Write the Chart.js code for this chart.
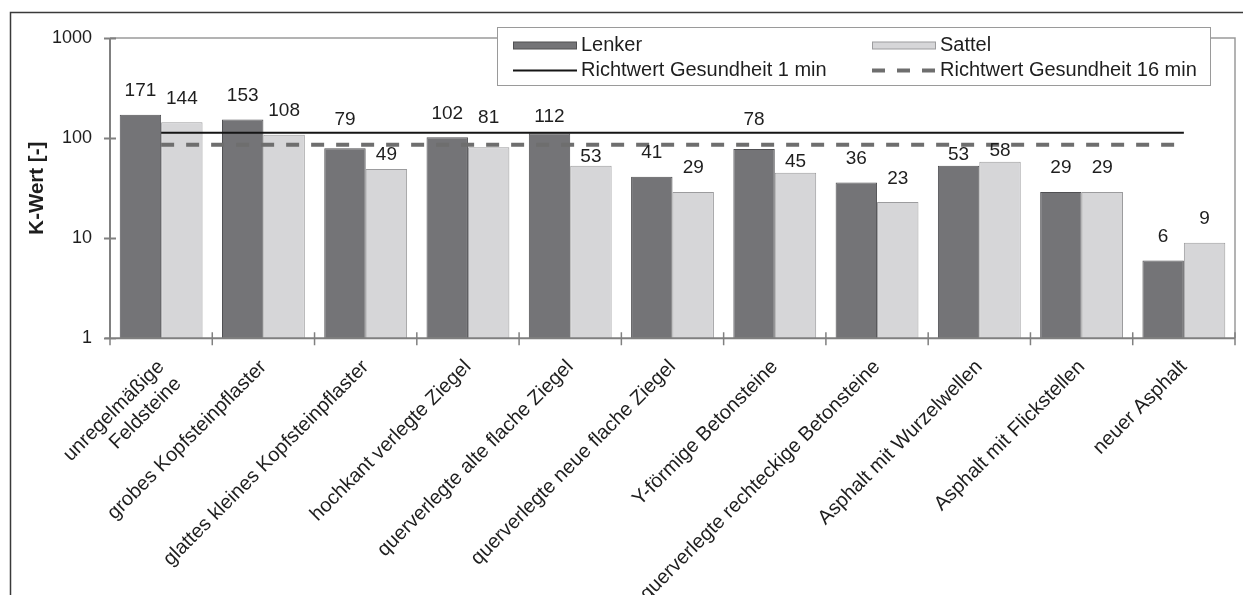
<!DOCTYPE html>
<html>
<head>
<meta charset="utf-8">
<script src="https://cdn.jsdelivr.net/npm/chart.js@4/dist/chart.umd.min.js"></script>
<style>
  html, body { margin: 0; padding: 0; background: #ffffff; }
  canvas { display: block; }
</style>
</head>
<body>
<canvas id="chart" width="1243" height="595"></canvas>
<script>
// Road surfaces (categories) and the measured K-values
const categories = [
  ['unregelmäßige', 'Feldsteine'],
  'grobes Kopfsteinpflaster',
  'glattes kleines Kopfsteinpflaster',
  'hochkant verlegte Ziegel',
  'querverlegte alte flache Ziegel',
  'querverlegte neue flache Ziegel',
  'Y-förmige Betonsteine',
  'querverlegte rechteckige Betonsteine',
  'Asphalt mit Wurzelwellen',
  'Asphalt mit Flickstellen',
  'neuer Asphalt'
];
const lenker = [171, 153, 79, 102, 112, 41, 78, 36, 53, 29, 6];
const sattel = [144, 108, 49, 81, 53, 29, 45, 23, 58, 29, 9];
const richtwert1min = 113;
const richtwert16min = 86;
const yTicks = [1, 10, 100, 1000];

const FONT = "'Liberation Sans', Arial, Helvetica, sans-serif";
const TEXT = '#1e1e1e';
Chart.defaults.font.family = FONT;
Chart.defaults.color = TEXT;

// Height of each value label above its bar (px); a few labels sit closer or higher
const labelLift = {
  base: 23.7,
  '0:2': 28.5, '0:4': 16.7, '0:6': 29, '0:8': 11,
  '1:2': 14.3, '1:3': 29, '1:4': 8.6, '1:6': 11.3, '1:8': 11.3
};

const lastIndex = categories.length - 1;

const datasets = [
  {
    type: 'bar', label: 'Lenker', data: lenker, order: 1,
    backgroundColor: '#747477', borderColor: '#505053', borderWidth: 1,
    categoryPercentage: 0.81, barPercentage: 1.0
  },
  {
    type: 'bar', label: 'Sattel', data: sattel, order: 1,
    backgroundColor: '#d6d6d8', borderColor: '#9c9c9e', borderWidth: 1,
    categoryPercentage: 0.81, barPercentage: 1.0
  },
  {
    type: 'line', label: 'Richtwert Gesundheit 1 min', order: 0, parsing: false,
    data: [{x: 0, y: richtwert1min}, {x: lastIndex, y: richtwert1min}],
    borderColor: '#151515', borderWidth: 2, pointRadius: 0, fill: false
  },
  {
    type: 'line', label: 'Richtwert Gesundheit 16 min', order: 0, parsing: false,
    data: [{x: 0, y: richtwert16min}, {x: lastIndex, y: richtwert16min}],
    borderColor: '#6e6e6e', borderWidth: 4, borderDash: [13, 12], pointRadius: 0, fill: false
  }
];

// White page, plot frame, crossing tick marks and value labels
const framePlugin = {
  id: 'frame',
  beforeDraw(chart) {
    const ctx = chart.ctx;
    ctx.save();
    ctx.fillStyle = '#ffffff';
    ctx.fillRect(0, 0, chart.width, chart.height);
    ctx.restore();
  },
  afterDatasetsDraw(chart) {
    const ctx = chart.ctx;
    const {left, right, top, bottom} = chart.chartArea;
    const xs = chart.scales.x, ys = chart.scales.y;
    ctx.save();
    // top and right edge of the plot area
    ctx.strokeStyle = '#9a9a9a';
    ctx.lineWidth = 1.5;
    ctx.beginPath();
    ctx.moveTo(left, top);
    ctx.lineTo(right, top);
    ctx.lineTo(right, bottom);
    ctx.stroke();
    // axes
    ctx.strokeStyle = '#808080';
    ctx.lineWidth = 2;
    ctx.beginPath();
    ctx.moveTo(left, top);
    ctx.lineTo(left, bottom);
    ctx.moveTo(left - 5, bottom);
    ctx.lineTo(right, bottom);
    // y tick marks crossing the axis
    yTicks.forEach(v => {
      const y = Math.round(ys.getPixelForValue(v)) + 0.5;
      ctx.moveTo(left - 6, y);
      ctx.lineTo(left + 6, y);
    });
    ctx.stroke();
    // x tick marks between categories
    ctx.lineWidth = 1.5;
    ctx.beginPath();
    for (let k = 0; k <= categories.length; k++) {
      const x = xs.getPixelForValue(k - 0.5);
      ctx.moveTo(x, bottom - 6);
      ctx.lineTo(x, bottom + 7);
    }
    ctx.stroke();

    // value labels above the bars
    ctx.fillStyle = TEXT;
    ctx.font = '19px ' + FONT;
    ctx.textAlign = 'center';
    ctx.textBaseline = 'middle';
    [0, 1].forEach(di => {
      const meta = chart.getDatasetMeta(di);
      const values = chart.data.datasets[di].data;
      meta.data.forEach((bar, i) => {
        const key = di + ':' + i;
        const lift = labelLift[key] !== undefined ? labelLift[key] : labelLift.base;
        ctx.fillText(String(values[i]), bar.x, bar.y - lift);
      });
    });
    ctx.restore();
  }
};

// Boxed two-column legend laid over the top of the plot, plus the outer frame
const legendPlugin = {
  id: 'boxLegend',
  afterDraw(chart) {
    const ctx = chart.ctx;
    const ds = chart.data.datasets;
    ctx.save();
    const bx = 497.5, by = 27.5, bw = 713, bh = 58;
    ctx.fillStyle = '#ffffff';
    ctx.fillRect(bx, by, bw, bh);
    ctx.strokeStyle = '#9a9a9a';
    ctx.lineWidth = 1;
    ctx.strokeRect(bx, by, bw, bh);

    const cols = [513, 872];
    const rows = [45.5, 70.5];
    const sw = 64;
    ctx.font = '20px ' + FONT;
    ctx.textBaseline = 'middle';
    ctx.textAlign = 'left';
    ds.forEach((d, i) => {
      const x = cols[i % 2];
      const y = rows[Math.floor(i / 2)];
      if (d.type === 'bar') {
        ctx.fillStyle = d.backgroundColor;
        ctx.fillRect(x, y - 3.5, sw, 7);
        ctx.strokeStyle = d.borderColor;
        ctx.lineWidth = 1;
        ctx.strokeRect(x + 0.5, y - 3.5, sw - 1, 7);
      } else {
        ctx.strokeStyle = d.borderColor;
        ctx.lineWidth = d.borderWidth;
        ctx.setLineDash(d.borderDash || []);
        ctx.beginPath();
        ctx.moveTo(x, y);
        ctx.lineTo(x + sw, y);
        ctx.stroke();
        ctx.setLineDash([]);
      }
      ctx.fillStyle = TEXT;
      ctx.fillText(d.label, x + sw + 4, y);
    });

    // outer frame (top and left edges)
    ctx.strokeStyle = '#3a3a3a';
    ctx.lineWidth = 1.5;
    ctx.beginPath();
    ctx.moveTo(10.5, chart.height);
    ctx.lineTo(10.5, 12.5);
    ctx.lineTo(chart.width, 12.5);
    ctx.stroke();
    ctx.restore();
  }
};

new Chart(document.getElementById('chart'), {
  data: { labels: categories, datasets: datasets },
  options: {
    responsive: false,
    devicePixelRatio: 1,
    animation: false,
    events: [],
    layout: { padding: { top: 38, left: 10, right: 8, bottom: 0 } },
    plugins: { legend: { display: false }, tooltip: { enabled: false } },
    scales: {
      x: {
        type: 'category',
        offset: true,
        grid: { display: false, drawTicks: false },
        border: { display: false },
        ticks: {
          autoSkip: false,
          minRotation: 45,
          maxRotation: 45,
          labelOffset: 0,
          padding: 17,
          color: TEXT,
          font: { size: 20, family: FONT }
        },
        afterFit(scale) { scale.height = 595 - 338.3; }
      },
      y: {
        type: 'logarithmic',
        min: 1,
        max: 1000,
        grid: { display: false, drawTicks: false },
        border: { display: false },
        ticks: {
          padding: 18,
          color: TEXT,
          font: { size: 18, family: FONT },
          callback: (v) => String(v)
        },
        afterBuildTicks(scale) {
          scale.ticks = yTicks.map(v => ({ value: v }));
        },
        title: {
          display: true,
          text: 'K-Wert [-]',
          color: TEXT,
          font: { size: 20.5, weight: 'bold', family: FONT },
          padding: { top: 15, bottom: 0 }
        },
        afterFit(scale) { scale.width = 100; }
      }
    }
  },
  plugins: [framePlugin, legendPlugin]
});
</script>
</body>
</html>
